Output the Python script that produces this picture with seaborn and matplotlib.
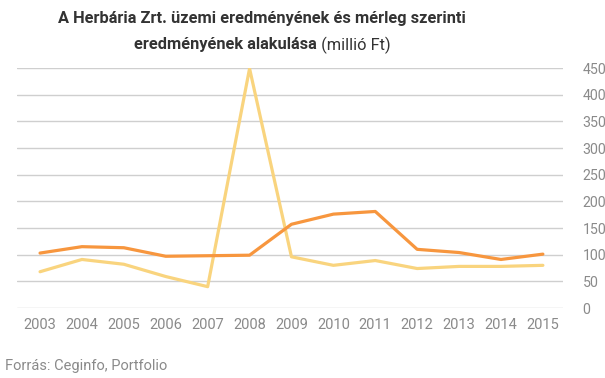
import matplotlib
matplotlib.use("Agg")
import matplotlib.pyplot as plt
import seaborn as sns
import pandas as pd

years = ["2003", "2004", "2005", "2006", "2007", "2008", "2009",
         "2010", "2011", "2012", "2013", "2014", "2015"]
uzemi = [103, 115, 113, 97, 98, 99, 157, 176, 181, 110, 104, 91, 101]
merleg = [68, 91, 82, 59, 40, 449, 96, 80, 89, 74, 78, 78, 80]
yticks = [0, 50, 100, 150, 200, 250, 300, 350, 400, 450]

sns.set_theme(style="white")
plt.rcParams["font.family"] = ["Roboto", "DejaVu Sans"]

df = pd.DataFrame({
    "pos": list(range(len(years))) * 2,
    "value": uzemi + merleg,
    "series": ["Üzemi eredmény"] * len(years) + ["Mérleg szerinti eredmény"] * len(years),
})

fig = plt.figure(figsize=(6.05, 3.78), dpi=100)
ax = fig.add_axes([17 / 605, 1 - 308 / 378, (563 - 17) / 605, (308 - 68) / 378])

for y in yticks:
    ax.axhline(y, color="#cfcfcf", lw=1.0, zorder=0)

sns.lineplot(data=df, x="pos", y="value", hue="series",
             palette={"Üzemi eredmény": "#F7963E", "Mérleg szerinti eredmény": "#F9D47E"},
             hue_order=["Mérleg szerinti eredmény", "Üzemi eredmény"],
             linewidth=2.3, ax=ax, legend=False, zorder=3)

ax.set_xlim(-0.55, 12.48)
ax.set_ylim(0, 450)
ax.set_xticks(range(len(years)))
ax.set_xticklabels(years)
ax.yaxis.tick_right()
ax.set_yticks(yticks)
ax.set_yticklabels([str(v) for v in yticks], ha="left")
ax.tick_params(axis="y", length=0, pad=14, labelsize=10.2, labelcolor="#8a8a8a")
ax.tick_params(axis="x", length=0, pad=7, labelsize=10.5, labelcolor="#8a8a8a")
ax.set_xlabel("")
ax.set_ylabel("")
for s in ax.spines.values():
    s.set_visible(False)
ax.grid(False)

fig.text(262 / 605, 1 - 18 / 378, "A Herbária Zrt. üzemi eredményének és mérleg szerinti",
         ha="center", va="center", fontsize=11.8, fontweight="bold", color="#333333")
t1 = fig.text(0, 0, "eredményének alakulása", fontsize=11.8, fontweight="bold", color="#333333")
t2 = fig.text(0, 0, " (millió Ft)", fontsize=11.8, color="#333333")
fig.canvas.draw()
r = fig.canvas.get_renderer()
w1 = t1.get_window_extent(r).width
w2 = t2.get_window_extent(r).width
x0 = 262 - (w1 + w2) / 2
t1.set_position((x0 / 605, 1 - 45 / 378)); t1.set_va("center")
t2.set_position(((x0 + w1) / 605, 1 - 45 / 378)); t2.set_va("center")

fig.text(5 / 605, 1 - 366 / 378, "Forrás: Ceginfo, Portfolio", ha="left", va="center",
         fontsize=10.5, color="#8a8a8a")

fig.savefig("out.png", dpi=100)
